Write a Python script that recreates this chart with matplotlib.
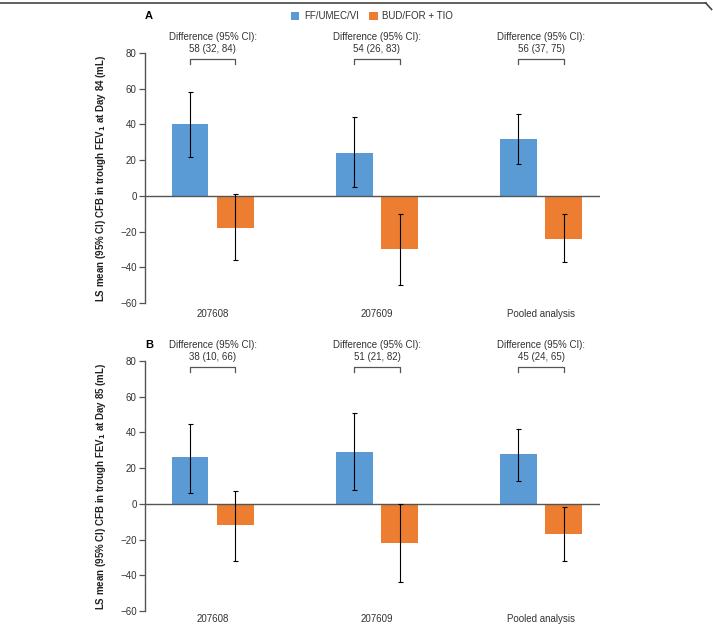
import numpy as np
import matplotlib
matplotlib.use('Agg')
from matplotlib import pyplot as plt
from matplotlib.patches import Patch
from matplotlib.lines import Line2D

plt.rcParams['font.family'] = ['Liberation Sans', 'DejaVu Sans']

studies = ['207608', '207609', 'Pooled analysis']
treatments = ['FF/UMEC/VI', 'BUD/FOR + TIO']

# Panel A: Day 84
a_ff = [40, 24, 32]
a_ff_lo = [22, 5, 18]
a_ff_hi = [58, 44, 46]
a_bud = [-18, -30, -24]
a_bud_lo = [-36, -50, -37]
a_bud_hi = [1, -10, -10]
a_diff = ['58 (32, 84)', '54 (26, 83)', '56 (37, 75)']

# Panel B: Day 85
b_ff = [26, 29, 28]
b_ff_lo = [6, 8, 13]
b_ff_hi = [45, 51, 42]
b_bud = [-12, -22, -17]
b_bud_lo = [-32, -44, -32]
b_bud_hi = [7, 0, -2]
b_diff = ['38 (10, 66)', '51 (21, 82)', '45 (24, 65)']

colors = ['#5b9bd5', '#ed7d31']
spine_color = '#555555'


def draw_panel(ax, ff, ff_lo, ff_hi, bud, bud_lo, bud_hi, diffs, day, xpad):
    x = np.arange(len(studies))
    off = 0.138
    width = 0.223
    for vals, lo, hi, pos, col in [(ff, ff_lo, ff_hi, x - off, colors[0]),
                                   (bud, bud_lo, bud_hi, x + off, colors[1])]:
        vals = np.array(vals)
        yerr = [vals - np.array(lo), np.array(hi) - vals]
        ax.bar(pos, vals, width, color=col, zorder=2)
        ax.errorbar(pos, vals, yerr=yerr, fmt='none', ecolor='black',
                    elinewidth=0.8, capsize=1.8, capthick=0.8, zorder=3)
    ax.axhline(0, color=spine_color, lw=1.0, zorder=2.5)

    for i, d in enumerate(diffs):
        bx = [i - off, i - off, i + off, i + off]
        by = [74, 76.5, 76.5, 74]
        ax.plot(bx, by, color=spine_color, lw=0.9, clip_on=False)
        ax.text(i, 79.5, 'Difference (95% CI):\n' + d, ha='center', va='bottom',
                fontsize=7, color='#333333', linespacing=1.25, clip_on=False)

    ax.set_xlim(-0.413, 2.358)
    ax.set_ylim(-60, 80)
    ax.set_yticks(np.arange(-60, 81, 20))
    ax.set_yticklabels(['\u221260', '\u221240', '\u221220', '0', '20', '40', '60', '80'])
    ax.set_xticks(x)
    ax.set_xticklabels(studies)
    ax.tick_params(axis='x', length=0, pad=xpad, labelsize=7, labelcolor='#333333')
    ax.tick_params(axis='y', length=4, width=0.9, color=spine_color,
                   labelsize=7, labelcolor='#333333', pad=2)
    for s in ['top', 'right', 'bottom']:
        ax.spines[s].set_visible(False)
    ax.spines['left'].set_color(spine_color)
    ax.spines['left'].set_linewidth(1.0)
    label = 'LS mean (95% CI) CFB in trough FEV$_\\mathbf{1}$ at Day ' + str(day) + ' (mL)'
    ax.set_ylabel(label, fontsize=7, fontweight='bold', color='#222222')
    ax.yaxis.set_label_coords(-0.081, 0.5)


fig = plt.figure(figsize=(7.13, 6.27), dpi=100)
ax_a = fig.add_axes([0.2034, 0.5167, 0.638, 0.3987])
ax_b = fig.add_axes([0.2034, 0.0255, 0.638, 0.3987])

draw_panel(ax_a, a_ff, a_ff_lo, a_ff_hi, a_bud, a_bud_lo, a_bud_hi, a_diff, 84, 4)
draw_panel(ax_b, b_ff, b_ff_lo, b_ff_hi, b_bud, b_bud_lo, b_bud_hi, b_diff, 85, 2)

fig.text(145 / 713, 1 - 16 / 627, 'A', fontsize=8, fontweight='bold', ha='left', va='center')
fig.text(145 / 713, 1 - 345 / 627, 'B', fontsize=8, fontweight='bold', ha='left', va='center')

handles = [Patch(facecolor=c, edgecolor='none') for c in colors]
fig.legend(handles, treatments, loc='center', bbox_to_anchor=(372 / 713, 1 - 16 / 627),
           ncol=2, frameon=False, fontsize=7, handlelength=0.9, handleheight=0.9,
           handletextpad=0.5, columnspacing=1.0, labelcolor='#333333')

# top frame line of the figure
fig.add_artist(Line2D([0, 0.99], [0.995, 0.995], transform=fig.transFigure,
                      color='#444444', lw=1.2))
fig.add_artist(Line2D([0.99, 0.998], [0.995, 0.985], transform=fig.transFigure,
                      color='#444444', lw=1.2))

fig.savefig('out.png', dpi=100)
